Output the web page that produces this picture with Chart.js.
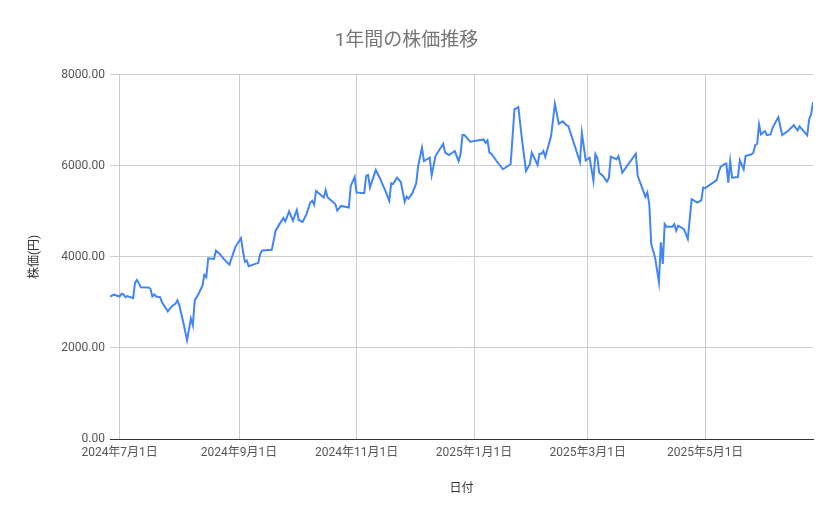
<!DOCTYPE html>
<html><head><meta charset="utf-8">
<script src="https://cdn.jsdelivr.net/npm/chart.js@4.4.1/dist/chart.umd.min.js"></script>
<style>html,body{margin:0;padding:0;background:#fff}#wrap{width:839px;height:519px;position:relative}</style>
</head><body><div id="wrap"><canvas id="c"></canvas></div>
<script>
const dates = [
'2024-06-26','2024-06-28','2024-07-01','2024-07-02','2024-07-03','2024-07-04','2024-07-05','2024-07-08','2024-07-09','2024-07-10',
'2024-07-12','2024-07-16','2024-07-17','2024-07-18','2024-07-19','2024-07-20','2024-07-22','2024-07-23','2024-07-26','2024-07-27',
'2024-07-29','2024-07-30','2024-07-31','2024-08-01','2024-08-03','2024-08-05','2024-08-07','2024-08-08','2024-08-09','2024-08-11',
'2024-08-13','2024-08-14','2024-08-15','2024-08-16','2024-08-19','2024-08-20','2024-08-22','2024-08-24','2024-08-27','2024-08-30',
'2024-09-02','2024-09-03','2024-09-04','2024-09-05','2024-09-06','2024-09-11','2024-09-12','2024-09-13','2024-09-18','2024-09-20',
'2024-09-22','2024-09-24','2024-09-25','2024-09-27','2024-09-29','2024-10-01','2024-10-02','2024-10-04','2024-10-06','2024-10-08',
'2024-10-09','2024-10-10','2024-10-11','2024-10-15','2024-10-16','2024-10-17','2024-10-18','2024-10-21','2024-10-22','2024-10-24',
'2024-10-28','2024-10-29','2024-10-31','2024-11-01','2024-11-05','2024-11-06','2024-11-07','2024-11-08','2024-11-10','2024-11-11',
'2024-11-13','2024-11-16','2024-11-18','2024-11-19','2024-11-20','2024-11-22','2024-11-24','2024-11-26','2024-11-27','2024-11-28',
'2024-11-30','2024-12-02','2024-12-03','2024-12-05','2024-12-06','2024-12-09','2024-12-10','2024-12-12','2024-12-16','2024-12-17',
'2024-12-19','2024-12-22','2024-12-24','2024-12-25','2024-12-26','2024-12-27','2024-12-30','2025-01-06','2025-01-07','2025-01-08',
'2025-01-09','2025-01-10','2025-01-13','2025-01-16','2025-01-20','2025-01-22','2025-01-24','2025-01-26','2025-01-28','2025-01-30',
'2025-01-31','2025-02-03','2025-02-04','2025-02-05','2025-02-06','2025-02-07','2025-02-10','2025-02-12','2025-02-14','2025-02-16',
'2025-02-18','2025-02-19','2025-02-25','2025-02-26','2025-02-28','2025-03-02','2025-03-04','2025-03-05','2025-03-06','2025-03-07',
'2025-03-09','2025-03-11','2025-03-12','2025-03-13','2025-03-16','2025-03-17','2025-03-19','2025-03-26','2025-03-27','2025-03-31',
'2025-04-01','2025-04-02','2025-04-03','2025-04-05','2025-04-07','2025-04-08','2025-04-09','2025-04-10','2025-04-11','2025-04-14',
'2025-04-15','2025-04-16','2025-04-17','2025-04-20','2025-04-22','2025-04-23','2025-04-24','2025-04-27','2025-04-29','2025-04-30',
'2025-05-01','2025-05-07','2025-05-08','2025-05-09','2025-05-11','2025-05-12','2025-05-13','2025-05-14','2025-05-15','2025-05-18',
'2025-05-19','2025-05-21','2025-05-22','2025-05-25','2025-05-26','2025-05-27','2025-05-28','2025-05-29','2025-05-30','2025-06-01',
'2025-06-02','2025-06-04','2025-06-05','2025-06-08','2025-06-10','2025-06-13','2025-06-16','2025-06-18','2025-06-19','2025-06-23',
'2025-06-24','2025-06-25','2025-06-26'
];
const prices = [
3130,3170,3130,3190,3175,3115,3140,3095,3430,3495,
3335,3330,3300,3130,3175,3130,3115,3005,2800,2860,
2950,2970,3045,2935,2570,2170,2645,2495,3045,3190,
3370,3605,3555,3970,3955,4140,4065,3955,3830,4210,
4415,4140,3895,3920,3795,3870,4065,4140,4155,4575,
4720,4855,4780,5000,4795,5030,4810,4770,4940,5195,
5230,5145,5450,5305,5465,5305,5270,5160,5015,5120,
5085,5560,5755,5415,5400,5780,5800,5525,5780,5910,
5740,5450,5230,5620,5600,5740,5645,5210,5325,5280,
5400,5620,6000,6400,6105,6180,5795,6215,6485,6290,
6235,6325,6105,6255,6675,6675,6530,6580,6505,6560,
6290,6265,6090,5925,6035,7240,7290,6545,5890,6035,
6290,6020,6265,6265,6325,6195,6655,7360,6925,6980,
6895,6870,6085,6725,6120,6180,5670,6255,6180,5850,
5780,5655,5730,6200,6145,6215,5850,6265,5780,5320,
5415,5160,4285,3990,3445,4320,3845,4720,4665,4665,
4720,4575,4685,4610,4395,4830,5270,5195,5240,5525,
5510,5685,5850,5975,6035,6050,5630,6105,5740,5755,
6120,5925,6215,6255,6290,6455,6485,6910,6690,6765,
6675,6690,6835,7070,6675,6765,6890,6780,6870,6670,
7020,7130,7400
];
const tickDates = ['2024-07-01','2024-09-01','2024-11-01','2025-01-01','2025-03-01','2025-05-01'];
const yTicks = [0, 2000, 4000, 6000, 8000];

function toDay(s){ const [y,m,d] = s.split('-').map(Number); return Date.UTC(y, m-1, d)/86400000; }
function fmtDay(v){ const dt = new Date(Math.round(v)*86400000); return dt.getUTCFullYear()+'年'+(dt.getUTCMonth()+1)+'月'+dt.getUTCDate()+'日'; }

const pts = dates.map((d,i)=>({x: toDay(d), y: prices[i]}));
const FONT = "Roboto, 'Noto Sans CJK JP', sans-serif";

new Chart(document.getElementById('c'), {
  type: 'line',
  data: { datasets: [{ data: pts, borderColor: '#4285F4', borderWidth: 2, pointRadius: 0, tension: 0, fill: false }] },
  options: {
    responsive: true, maintainAspectRatio: false, animation: false,
    layout: { padding: { left: 0, right: 26, top: 0, bottom: 0 } },
    plugins: {
      legend: { display: false }, tooltip: { enabled: false },
      title: { display: true, text: '1年間の株価推移', color: '#757575', font: { family: FONT, size: 19, weight: 'normal' }, padding: { top: 30, bottom: 22 } }
    },
    scales: {
      x: {
        type: 'linear',
        min: toDay(dates[0]), max: toDay(dates[dates.length-1]),
        afterBuildTicks: s => { s.ticks = tickDates.map(d => ({ value: toDay(d) })); },
        afterFit: s => { s.height = 80; },
        ticks: { callback: v => fmtDay(v), color: '#555', font: { family: FONT, size: 12 }, padding: 7, maxRotation: 0, autoSkip: false },
        grid: { color: '#cccccc', drawTicks: false },
        border: { display: true, color: '#333333', width: 1 },
        title: { display: true, text: '日付', color: '#333', font: { family: FONT, size: 12 }, padding: { top: 0, bottom: 23 } }
      },
      y: {
        min: 0, max: 8000,
        afterBuildTicks: s => { s.ticks = yTicks.map(v => ({ value: v })); },
        afterFit: s => { s.width = 110; },
        ticks: { callback: v => Number(v).toFixed(2), color: '#555', font: { family: FONT, size: 12 }, padding: 5 },
        grid: { color: '#cccccc', drawTicks: false },
        border: { display: false },
        title: { display: true, text: '株価(円)', color: '#333', font: { family: FONT, size: 12 }, padding: { top: 28, bottom: 0 } }
      }
    }
  }
});
</script></body></html>
